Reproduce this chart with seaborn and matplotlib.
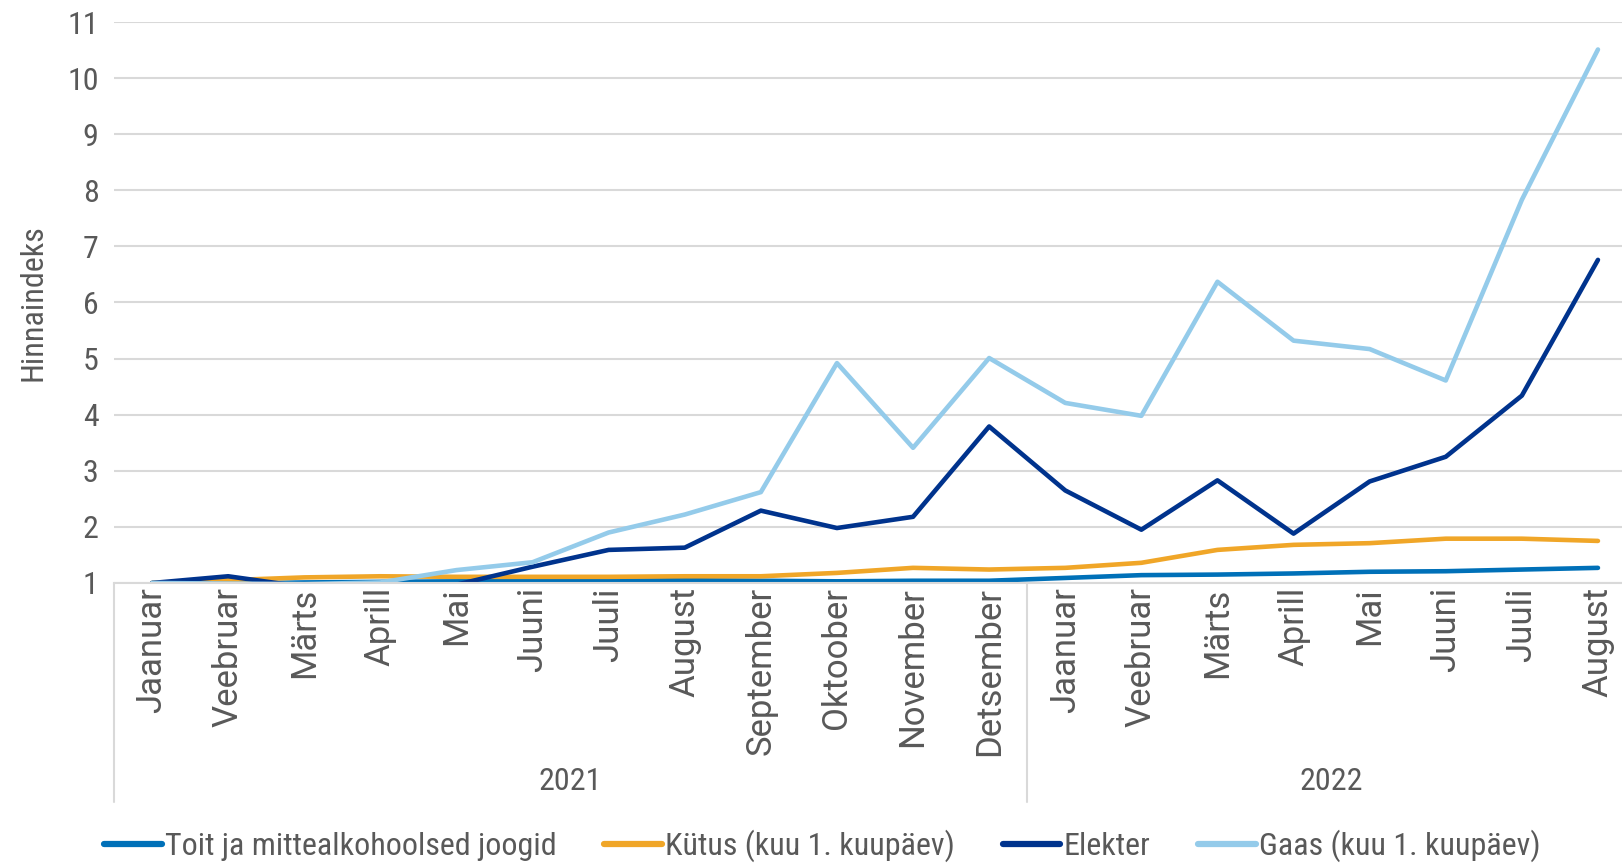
import pandas as pd
import matplotlib.pyplot as plt
import matplotlib.transforms as mtransforms
from matplotlib import font_manager
import seaborn as sns

months = ["Jaanuar", "Veebruar", "Märts", "Aprill", "Mai", "Juuni", "Juuli", "August",
          "September", "Oktoober", "November", "Detsember",
          "Jaanuar", "Veebruar", "Märts", "Aprill", "Mai", "Juuni", "Juuli", "August"]
years = ["2021", "2022"]
year_len = [12, 8]

toit = [1.00, 0.99, 1.01, 1.02, 1.03, 1.04, 1.04, 1.05, 1.04, 1.03, 1.04, 1.04,
        1.09, 1.14, 1.15, 1.17, 1.20, 1.21, 1.24, 1.27]
kytus = [1.00, 1.05, 1.10, 1.12, 1.11, 1.11, 1.11, 1.12, 1.12, 1.18, 1.27, 1.24,
         1.27, 1.36, 1.59, 1.68, 1.71, 1.79, 1.79, 1.75]
elekter = [1.00, 1.12, 0.93, 0.93, 0.97, 1.29, 1.59, 1.63, 2.29, 1.98, 2.18, 3.79,
           2.65, 1.95, 2.83, 1.88, 2.81, 3.25, 4.34, 6.76]
gaas = [1.00, 0.99, 0.98, 1.01, 1.23, 1.37, 1.90, 2.22, 2.62, 4.92, 3.41, 5.01,
        4.21, 3.98, 6.37, 5.32, 5.17, 4.61, 7.83, 10.51]

names = ["Toit ja mittealkohoolsed joogid", "Kütus (kuu 1. kuupäev)", "Elekter", "Gaas (kuu 1. kuupäev)"]
colors = ["#0070B8", "#F0A628", "#00338D", "#94CBEA"]

rows = []
for name, vals in zip(names, [toit, kytus, elekter, gaas]):
    for i, v in enumerate(vals):
        rows.append({"idx": i, "value": v, "series": name})
df = pd.DataFrame(rows)

sns.set_theme(style="white")
avail = {f.name for f in font_manager.fontManager.ttflist}
narrow = next((f for f in ["Roboto Condensed", "Liberation Sans Narrow", "Roboto"] if f in avail), "DejaVu Sans")
regular = "Roboto" if "Roboto" in avail else "DejaVu Sans"
plt.rcParams["font.family"] = [narrow, "DejaVu Sans"]
text_color = "#595959"

fig = plt.figure(figsize=(16.22, 8.63), dpi=100)
ax = fig.add_axes([114 / 1622, 280 / 863, 1508 / 1622, 561 / 863])

sns.lineplot(data=df, x="idx", y="value", hue="series", palette=dict(zip(names, colors)),
             linewidth=3.3, sort=False, ax=ax, legend=False)

ax.set_ylim(1, 11)
ax.set_xlim(-0.5, -0.5 + 1508 / 76.1)
ax.set_yticks(range(1, 12))
ax.set_yticklabels([str(v) for v in range(1, 12)], fontsize=23, color=text_color)
ax.yaxis.grid(True, color="#D9D9D9", linewidth=1.5)
ax.set_axisbelow(True)
for s in ["top", "right", "left"]:
    ax.spines[s].set_visible(False)
ax.spines["bottom"].set_color("#D9D9D9")
ax.spines["bottom"].set_linewidth(1.5)
ax.tick_params(axis="both", length=0)
ax.tick_params(axis="y", pad=11)
ax.tick_params(axis="x", pad=3)

ax.set_xticks(range(len(months)))
ax.set_xticklabels(months, rotation=90, fontsize=25, color=text_color, family=regular, va="top")
ax.set_xlabel("")
ax.set_ylabel("Hinnaindeks", fontsize=23, color=text_color, labelpad=14)

# kahetasemeline x-telg: aastad ja eraldusjooned
trans = mtransforms.blended_transform_factory(ax.transData, ax.transAxes)
start = 0
for yr, n in zip(years, year_len):
    ax.plot([start - 0.5, start - 0.5], [0, -0.39], transform=trans, color="#D9D9D9",
            linewidth=1.5, clip_on=False)
    ax.text(start - 0.5 + n / 2, -0.353, yr, transform=trans, ha="center", va="center",
            fontsize=23, color=text_color)
    start += n

handles = [plt.Line2D([], [], color=c, linewidth=4.5, solid_capstyle="round") for c in colors]
fig.legend(handles, names, loc="center", bbox_to_anchor=(0.507, 0.02), ncol=4, frameon=False,
           fontsize=23, handlelength=1.8, handletextpad=0.1, columnspacing=1.5,
           labelcolor=text_color)

fig.savefig("out.png", dpi=100)
